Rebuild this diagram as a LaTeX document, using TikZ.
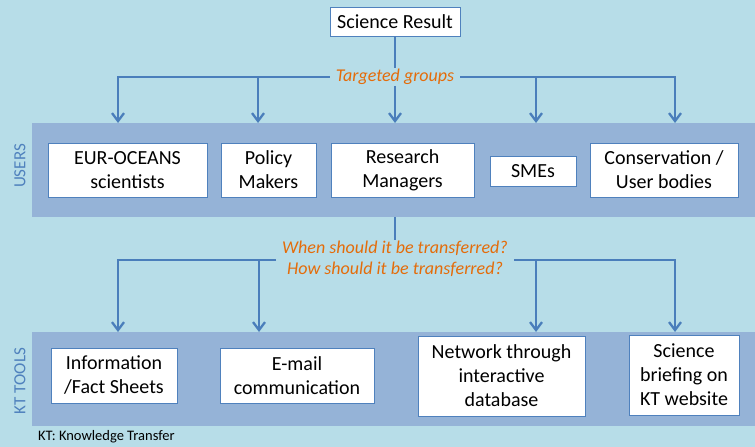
\documentclass[tikz,border=0pt]{standalone}
\usepackage{fontspec}
\setmainfont{Carlito}
\usetikzlibrary{arrows.meta}
\definecolor{sea}{HTML}{B7DDE8}
\definecolor{band}{HTML}{95B3D7}
\definecolor{wire}{HTML}{4A7EBB}
\definecolor{note}{HTML}{E46C0A}
\definecolor{sidelbl}{HTML}{4F81BD}
\tikzset{
  tbox/.style={draw=sidelbl,fill=white,line width=0.9pt,align=center,inner sep=2pt,
    font=\fontsize{20}{24}\selectfont},
  bandrow/.style={fill=band,anchor=north west,inner sep=0pt},
  note/.style={text=note,font=\fontsize{18}{21}\selectfont\itshape,align=center,
    inner xsep=6pt,inner ysep=1pt},
  side/.style={text=sidelbl,rotate=90,font=\fontsize{17}{19}\selectfont},
  wire/.style={draw=wire,line width=2.3pt},
  feed/.style={wire,-{Straight Barb[length=8pt,width=12pt]}},
}
\newcommand{\tbox}[6]{\node[tbox,minimum width=#4pt,minimum height=#5pt] (#1) at (#2,#3) {#6};}
\newcommand{\feed}[2]{\draw[feed] (#1) -- (#1 |- #2);}

\begin{document}
\begin{tikzpicture}[x=1pt,y=-1pt]
    \fill[sea] (0,0) rectangle (755,447);
    \useasboundingbox (0,0) rectangle (755,447);
    % the two bands
    \node[bandrow,minimum width=723pt,minimum height=94pt] (users) at (32,123) {};
    \node[bandrow,minimum width=723pt,minimum height=94pt] (tools) at (32,332) {};
    \node[side] (userslbl) at (20,166) {USERS};
    \node[side] (toolslbl) at (20,381) {KT TOOLS};
    % top
    \tbox{res}{395}{21.5}{130}{29}{Science Result}
    \node[note] (tg) at (395,77) {Targeted groups};
    \draw[wire] (res) -- (tg);
    \coordinate (t1) at (118,78); \coordinate (t2) at (258,78);
    \coordinate (t4) at (536,78); \coordinate (t5) at (675,78);
    \draw[feed] (tg.west) -| (t1 |- users.north);
    \draw[feed] (tg.east) -| (t5 |- users.north);
    \feed{t2}{users.north}\feed{tg.south}{users.north}\feed{t4}{users.north}
    % users
    \tbox{eur}{127.5}{170}{159}{54}{EUR-OCEANS\\scientists}
    \tbox{pol}{268.5}{170}{95}{54}{Policy\\Makers}
    \tbox{rm}{402.5}{170}{143}{54}{Research\\Managers}
    \tbox{sme}{533}{171}{86}{30}{SMEs}
    \tbox{con}{664}{170}{148}{54}{Conservation /\\User bodies}
    % how to transfer
    \node[note] (how) at (395,259) {When should it be transferred?\\How should it be transferred?};
    \draw[wire] (users.south -| how) -- (how.north);
    \coordinate (k2) at (259,260); \coordinate (k3) at (536,260);
    \draw[feed] (how.west |- 0,260) -| (tools.north -| 118,0);
    \draw[feed] (how.east |- 0,260) -| (tools.north -| 675,0);
    \feed{k2}{tools.north}\feed{k3}{tools.north}
    % tools
    \tbox{info}{114}{375.5}{126}{55}{Information\\/Fact Sheets}
    \tbox{mail}{297}{375.5}{154}{55}{E-mail\\communication}
    \tbox{net}{501.5}{376}{167}{80}{Network through\\interactive\\database}
    \tbox{web}{684}{375}{110}{80}{Science\\briefing on\\KT website}
    \node[anchor=west,font=\fontsize{14.5}{16}\selectfont,inner sep=0pt] (ktnote) at (38,437) {KT: Knowledge Transfer};
\end{tikzpicture}
\end{document}
